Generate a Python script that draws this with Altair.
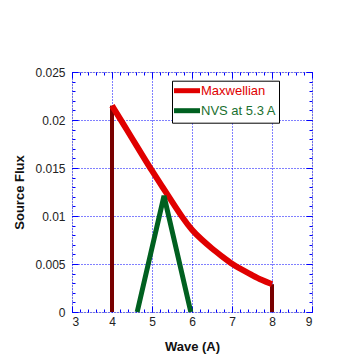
import altair as alt
import pandas as pd

# ---- data ----
max_wave = [4.0, 4.25, 4.5, 4.75, 5.0, 5.25, 5.5, 5.75, 6.0, 6.25, 6.5, 6.75,
            7.0, 7.25, 7.5, 7.75, 8.0]
max_flux = [0.0215, 0.0198, 0.0181, 0.0164, 0.0147, 0.0131, 0.0115, 0.0099,
            0.0085, 0.0075, 0.0066, 0.0058, 0.0050, 0.0044, 0.00385, 0.0033, 0.0029]
nvs_wave = [4.63, 5.3, 5.97]
nvs_flux = [0.0, 0.0121, 0.0]
edge_wave = [4.0, 8.0]
edge_flux = [0.0215, 0.0029]
series_names = ["Maxwellian", "NVS at 5.3 A"]

x_major = [3, 4, 5, 6, 7, 8, 9]
x_minor = [round(3 + 0.2 * i, 1) for i in range(31)]
y_major = [0, 0.005, 0.01, 0.015, 0.02, 0.025]
y_minor = [round(0.001 * i, 3) for i in range(26)]

RED = "#e00000"
GREEN = "#006020"
GREEN_TEXT = "#1a7030"
DARKRED = "#780000"
BLUE = "#0000ff"
FONT = "Liberation Sans"

max_df = pd.DataFrame({"wave": max_wave, "flux": max_flux, "series": series_names[0]})
nvs_df = pd.DataFrame({"wave": nvs_wave, "flux": nvs_flux, "series": series_names[1]})
edge_df = pd.DataFrame({"wave": edge_wave, "flux": edge_flux, "base": [0.0, 0.0]})

xs = alt.Scale(domain=[3, 9], nice=False, zero=False)
ys = alt.Scale(domain=[0, 0.025], nice=False)


def tick_axis(orient, values, size):
    return alt.Axis(orient=orient, values=values, tickSize={"expr": str(-size)},
                    tickColor=BLUE, tickWidth=1, labels=False, domain=False,
                    grid=False, title=None)


x_main = alt.Axis(orient="bottom", values=x_major, ticks=False, domain=False,
                  labelFont=FONT, labelFontSize=12, labelColor="#222222", labelPadding=4,
                  grid=True, gridColor=BLUE, gridDash=[1, 2], gridWidth=1,
                  title="Wave (A)", titleFont=FONT, titleFontSize=13, titleFontWeight="bold",
                  titleColor="#111111", titleX=120, titleY=34, titleBaseline="middle",
                  titleAlign="center")
y_main = alt.Axis(orient="left", values=y_major, ticks=False, domain=False, format="~g",
                  labelFont=FONT, labelFontSize=12, labelColor="#222222", labelPadding=7,
                  grid=True, gridColor=BLUE, gridDash=[1, 2], gridWidth=1,
                  title="Source Flux", titleFont=FONT, titleFontSize=13, titleFontWeight="bold",
                  titleColor="#111111", titleX=-53, titleY=120, titleAngle=-90,
                  titleBaseline="middle", titleAlign="center")

color = alt.Color("series:N", scale=alt.Scale(domain=series_names, range=[RED, GREEN]),
                  legend=alt.Legend(title=None, orient="none", legendX=100, legendY=8.7,
                                    direction="vertical", symbolType="M-1.45,0H3.27",
                                    symbolStrokeWidth=5, symbolSize=121,
                                    labelFont=FONT, labelFontSize=13, labelOffset=11,
                                    labelColor={"expr": f"datum.label == 'Maxwellian' ? '{RED}' : '{GREEN_TEXT}'"},
                                    strokeColor="black", fillColor="white",
                                    padding=2, rowPadding=0))

# layer carrying labelled axes + grid
base = alt.Chart(max_df).mark_point(opacity=0).encode(
    x=alt.X("wave:Q", scale=xs, axis=x_main),
    y=alt.Y("flux:Q", scale=ys, axis=y_main),
)

edges = alt.Chart(edge_df).mark_rule(color=DARKRED, strokeWidth=4).encode(
    x=alt.X("wave:Q", scale=xs, axis=tick_axis("bottom", x_major, 6)),
    y=alt.Y("base:Q", scale=ys, axis=tick_axis("left", y_major, 6)),
    y2="flux:Q",
)

maxw = alt.Chart(max_df).mark_line(strokeWidth=6, interpolate="basis").encode(
    x=alt.X("wave:Q", scale=xs, axis=tick_axis("bottom", x_minor, 3)),
    y=alt.Y("flux:Q", scale=ys, axis=tick_axis("left", y_minor, 3)),
    color=color,
)

nvs = alt.Chart(nvs_df).mark_line(strokeWidth=5).encode(
    x=alt.X("wave:Q", scale=xs, axis=tick_axis("top", x_major, 6)),
    y=alt.Y("flux:Q", scale=ys, axis=tick_axis("right", y_major, 6)),
    color=color,
)

extra = alt.Chart(nvs_df).mark_point(opacity=0).encode(
    x=alt.X("wave:Q", scale=xs, axis=tick_axis("top", x_minor, 3)),
    y=alt.Y("flux:Q", scale=ys, axis=tick_axis("right", y_minor, 3)),
)

chart = alt.layer(base, edges, maxw, nvs, extra).resolve_axis(
    x="independent", y="independent"
).properties(
    width=240, height=240,
    autosize=alt.AutoSizeParams(type="none"),
    padding={"left": 64, "top": 64, "right": 40, "bottom": 56},
).configure_view(stroke=BLUE, strokeWidth=2).configure_legend(
    strokeWidth=1.5
).configure(background="white")

chart.save("out.html", embed_options={"renderer": "svg", "actions": False})
